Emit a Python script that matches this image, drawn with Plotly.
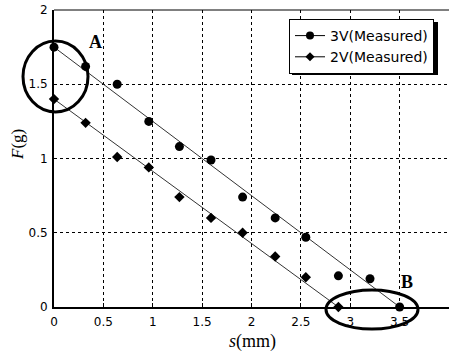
import plotly.graph_objects as go

# Measured data
s_3v = [0.0, 0.32, 0.64, 0.96, 1.27, 1.59, 1.91, 2.24, 2.55, 2.88, 3.2, 3.5]
f_3v = [1.75, 1.62, 1.50, 1.25, 1.08, 0.99, 0.74, 0.60, 0.47, 0.21, 0.19, 0.0]
s_2v = [0.0, 0.32, 0.64, 0.96, 1.27, 1.59, 1.91, 2.24, 2.55, 2.88]
f_2v = [1.40, 1.24, 1.01, 0.94, 0.74, 0.60, 0.50, 0.34, 0.20, 0.0]

# Fitted lines (endpoints)
fit3_x = [0.0, 3.5]
fit3_y = [1.75, 0.0]
fit2_x = [0.0, 2.88]
fit2_y = [1.40, 0.0]

x_ticks = [0, 0.5, 1, 1.5, 2, 2.5, 3, 3.5, 4]
x_tick_text = ["0", "0.5", "1", "1.5", "2", "2.5", "3", "3.5", "4"]
y_ticks = [0, 0.5, 1, 1.5, 2]
y_tick_text = ["0", "0.5", "1", "1.5", "2"]

fig = go.Figure()
fig.add_trace(go.Scatter(x=fit3_x, y=fit3_y, mode="lines",
                         line=dict(color="#333", width=1), showlegend=False))
fig.add_trace(go.Scatter(x=fit2_x, y=fit2_y, mode="lines",
                         line=dict(color="#333", width=1), showlegend=False))
fig.add_trace(go.Scatter(x=s_3v, y=f_3v, mode="markers",
                         marker=dict(symbol="circle", size=9, color="black"),
                         showlegend=False, cliponaxis=False))
fig.add_trace(go.Scatter(x=s_2v, y=f_2v, mode="markers",
                         marker=dict(symbol="diamond", size=8, color="black"),
                         showlegend=False, cliponaxis=False))
# legend entries
fig.add_trace(go.Scatter(x=[None], y=[None], mode="lines+markers", name="3V(Measured)",
                         line=dict(color="black", width=1),
                         marker=dict(symbol="circle", size=8, color="black")))
fig.add_trace(go.Scatter(x=[None], y=[None], mode="lines+markers", name="2V(Measured)",
                         line=dict(color="black", width=1),
                         marker=dict(symbol="diamond", size=7, color="black")))

W, H = 449, 352
L, R, T, B = 54, 0, 10, 45
pw, ph = W - L - R, H - T - B


def px2paper(px, py):
    return (px - L) / pw, (H - B - py) / ph


# Ellipses A and B (pixel bounds -> paper)
ax0, ay0 = px2paper(23, 112)
ax1, ay1 = px2paper(88, 41)
bx0, by0 = px2paper(326, 329)
bx1, by1 = px2paper(418, 290)
lg_x0, lg_y0 = px2paper(289, 19)
sh_x0, sh_y0 = px2paper(292, 22)
sh_x1, sh_y1 = px2paper(438, 75)

serif = "Liberation Serif, Times New Roman"
sans = "DejaVu Sans"


def ann(text, px, py, size, angle=0):
    x, y = px2paper(px, py)
    return dict(text=text, xref="paper", yref="paper", x=x, y=y,
                xanchor="center", yanchor="middle", showarrow=False,
                textangle=angle, font=dict(family=serif, size=size))


fig.update_layout(
    width=W, height=H,
    margin=dict(l=L, r=R, t=T, b=B, autoexpand=False),
    plot_bgcolor="white", paper_bgcolor="white",
    font=dict(family=sans, size=12, color="black"),
    xaxis=dict(range=[0, 4], tickvals=x_ticks, ticktext=x_tick_text, automargin=False,
               showgrid=True, gridcolor="black", griddash="dot", gridwidth=1,
               showline=True, linecolor="black", linewidth=2, mirror=False,
               ticks="inside", ticklen=4, tickcolor="black", zeroline=False,
               ticklabelstandoff=3),
    yaxis=dict(range=[0, 2], tickvals=y_ticks, ticktext=y_tick_text, automargin=False,
               showgrid=True, gridcolor="black", griddash="dot", gridwidth=1,
               showline=True, linecolor="black", linewidth=2, mirror=False,
               ticks="", zeroline=False, ticklabelstandoff=2),
    legend=dict(x=lg_x0, y=lg_y0, xanchor="left", yanchor="top",
                bgcolor="white", bordercolor="black", borderwidth=1,
                font=dict(family=sans, size=14), itemwidth=30),
    shapes=[
        dict(type="line", xref="paper", yref="paper", x0=0, x1=1, y0=1, y1=1,
             line=dict(color="black", width=1)),
        dict(type="rect", xref="paper", yref="paper", x0=sh_x0, x1=sh_x1, y0=sh_y1, y1=sh_y0,
             line=dict(width=0), fillcolor="black", layer="above"),
        dict(type="circle", xref="paper", yref="paper", x0=ax0, x1=ax1, y0=ay0, y1=ay1,
             line=dict(color="black", width=3)),
        dict(type="circle", xref="paper", yref="paper", x0=bx0, x1=bx1, y0=by0, y1=by1,
             line=dict(color="black", width=3)),
    ],
    annotations=[
        ann("<b>A</b>", 95, 42, 18),
        ann("<b>B</b>", 407, 282, 18),
        ann("<i>F</i>(g)", 17, 145, 17, angle=-90),
        ann("<i>s</i>(mm)", 252, 341, 18),
    ],
)

fig.write_html("out.html", config={"displayModeBar": False},
               post_script="document.body.style.margin='0px';")
